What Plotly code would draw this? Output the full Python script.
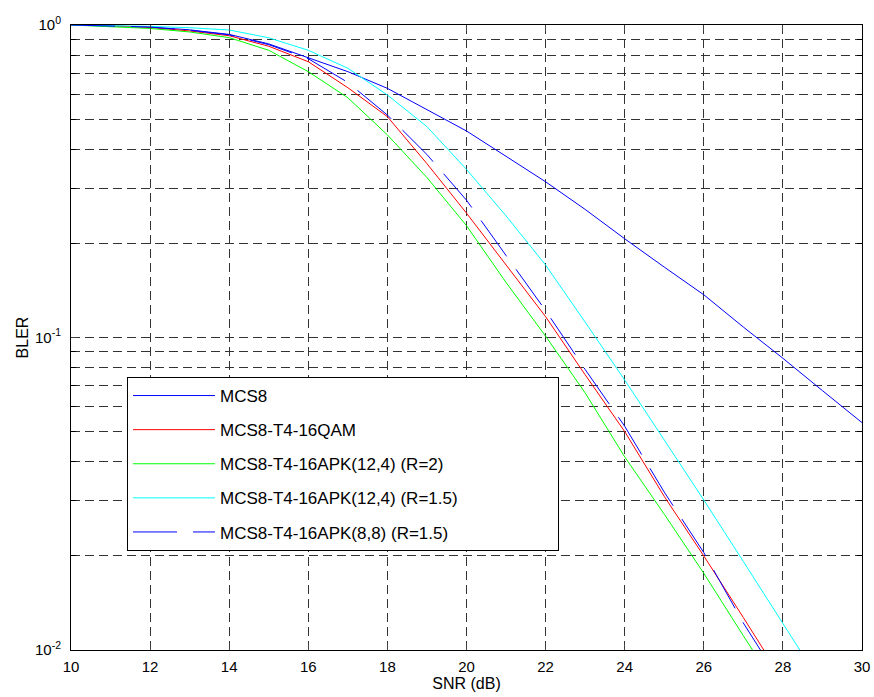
import plotly.graph_objects as go

# ---------------- data ----------------
snr_mcs8 = list(range(10, 31))
bler_mcs8 = [1.0, 0.995, 0.985, 0.965, 0.933, 0.87, 0.785, 0.709, 0.627, 0.536,
             0.458, 0.38, 0.315, 0.257, 0.207, 0.168, 0.137, 0.108, 0.0858, 0.0676, 0.0534]

snr_qam = list(range(10, 29))
bler_qam = [1.0, 0.995, 0.982, 0.957, 0.924, 0.855, 0.763, 0.63, 0.509, 0.36,
            0.25, 0.171, 0.1166, 0.076, 0.05, 0.031, 0.02, 0.0127, 0.008]

snr_apk124_r2 = list(range(10, 29))
bler_apk124_r2 = [1.0, 0.99, 0.975, 0.95, 0.911, 0.83, 0.709, 0.585, 0.445, 0.325,
                  0.228, 0.15, 0.101, 0.0665, 0.0415, 0.0272, 0.0176, 0.0111, 0.0071]

snr_apk124_r15 = list(range(10, 30))
bler_apk124_r15 = [1.0, 0.997, 0.99, 0.98, 0.964, 0.91, 0.83, 0.727, 0.597, 0.473,
                   0.345, 0.245, 0.1706, 0.112, 0.0731, 0.047, 0.0302, 0.0192, 0.0121, 0.0077]

snr_apk88_r15 = list(range(10, 29))
bler_apk88_r15 = [1.0, 0.995, 0.985, 0.962, 0.93, 0.865, 0.78, 0.655, 0.515, 0.385,
                  0.275, 0.183, 0.122, 0.079, 0.052, 0.032, 0.0205, 0.0122, 0.0077]

series_names = ["MCS8", "MCS8-T4-16QAM", "MCS8-T4-16APK(12,4) (R=2)",
                "MCS8-T4-16APK(12,4) (R=1.5)", "MCS8-T4-16APK(8,8) (R=1.5)"]

x_ticks = list(range(10, 31, 2))
y_major = [0.01, 0.1, 1]
y_major_text = ["10<sup>-2</sup>", "10<sup>-1</sup>", "10<sup>0</sup>"]
y_minor = [0.02, 0.03, 0.04, 0.05, 0.06, 0.07, 0.08, 0.09,
           0.2, 0.3, 0.4, 0.5, 0.6, 0.7, 0.8, 0.9]

# ---------------- figure ----------------
FONT = "Liberation Sans, Arial, sans-serif"
fig = go.Figure()

styles = [
    dict(color="#0000ff", width=1, dash="solid"),
    dict(color="#ff0000", width=1, dash="solid"),
    dict(color="#00ff00", width=1, dash="solid"),
    dict(color="#00ffff", width=1, dash="solid"),
    dict(color="#0000ff", width=1, dash="44px,16px"),
]
xs = [snr_mcs8, snr_qam, snr_apk124_r2, snr_apk124_r15, snr_apk88_r15]
ys = [bler_mcs8, bler_qam, bler_apk124_r2, bler_apk124_r15, bler_apk88_r15]

# pad legend labels with non-breaking spaces so the legend box is as wide as the original
pad = "\u00a0" * 20
for i, (x, y, name, st) in enumerate(zip(xs, ys, series_names, styles)):
    fig.add_trace(go.Scatter(x=x, y=y, mode="lines", name=name + pad, line=st,
                             legendgroup=f"g{i}"))

grid_dash = "9px,5px"
grid_col = "#333333"
fig.update_layout(
    width=874, height=697,
    margin=dict(l=71, r=12, t=25, b=47, autoexpand=False),
    paper_bgcolor="white", plot_bgcolor="white",
    font=dict(family=FONT, size=15, color="black"),
    showlegend=True,
    legend=dict(
        x=(127 - 71) / 791, y=(650 - 377) / 625, xanchor="left", yanchor="top",
        bgcolor="white", bordercolor="black", borderwidth=1,
        font=dict(family=FONT, size=17, color="black"),
        itemwidth=82, tracegroupgap=9, traceorder="grouped",
    ),
    xaxis=dict(
        range=[10, 30], tickvals=x_ticks, ticks="inside", ticklen=6,
        showline=True, linecolor="black", linewidth=1, mirror="ticks",
        showgrid=True, gridcolor=grid_col, gridwidth=1, griddash=grid_dash,
        zeroline=False, automargin=False, ticklabelstandoff=3,
        title=dict(text="SNR (dB)", font=dict(size=16), standoff=2),
        tickfont=dict(size=15),
    ),
    yaxis=dict(
        type="log", range=[-2, 0], tickvals=y_major, ticktext=y_major_text,
        ticks="inside", ticklen=6,
        showline=True, linecolor="black", linewidth=1, mirror="ticks",
        showgrid=True, gridcolor=grid_col, gridwidth=1, griddash=grid_dash,
        zeroline=False, automargin=False, ticklabelstandoff=6,
        minor=dict(tickmode="array", tickvals=y_minor, ticks="inside", ticklen=5,
                   tickcolor="black", showgrid=True, gridcolor=grid_col,
                   gridwidth=1, griddash=grid_dash),
        title=dict(text="BLER", font=dict(size=16), standoff=2),
        tickfont=dict(size=15),
    ),
)

fig.write_html("out.html", config={"displayModeBar": False},
               post_script="document.body.style.margin='0';")
